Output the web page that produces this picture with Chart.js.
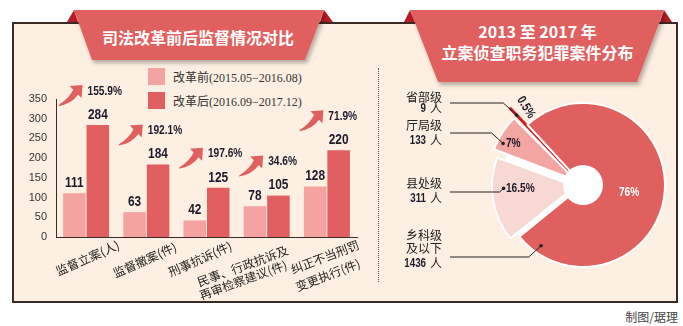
<!DOCTYPE html>
<html>
<head>
<meta charset="utf-8">
<script src="https://cdn.jsdelivr.net/npm/chart.js@4.4.1/dist/chart.umd.min.js"></script>
<style>
body { margin: 0; width: 683px; height: 326px; background: #fff; position: relative; overflow: hidden; font-family: "Noto Sans CJK SC", sans-serif; }
#panel { position: absolute; left: 12px; top: 22px; width: 666px; height: 281px; box-sizing: border-box; background: #fdf0e2; border: 2px solid #3b2a26; }
#sep { position: absolute; left: 378px; top: 68px; height: 214px; border-left: 1px dotted #555; }
#deco { position: absolute; left: 0; top: 0; }
.title { position: absolute; color: #fff; font-weight: bold; font-size: 16px; text-align: center; white-space: nowrap; line-height: 21px; }
.legend { position: absolute; left: 148px; font-size: 12px; color: #333; white-space: nowrap; }
.legend i { position: absolute; left: 0; top: 0; width: 17px; height: 17px; }
.legend span { position: absolute; left: 25px; top: 0; line-height: 17px; }
.legend b { font-weight: normal; font-family: "Liberation Serif", serif; }
#barWrap { position: absolute; left: 14px; top: 62px; width: 362px; height: 240px; }
#pieWrap { position: absolute; left: 380px; top: 62px; width: 296px; height: 240px; }
#credit { position: absolute; right: 5px; top: 308px; font-size: 12px; color: #444; }
</style>
</head>
<body>
<div id="panel"></div>
<div id="sep"></div>
<svg id="deco" width="683" height="326">
  <defs>
    <filter id="sh" x="-10%" y="-20%" width="125%" height="170%">
      <feDropShadow dx="2" dy="3" stdDeviation="2" flood-color="#000" flood-opacity="0.3"/>
    </filter>
  </defs>
  <polygon points="67,22 74,10 78,22" fill="#b51d22"/>
  <polygon points="320,22 324,10 333,22" fill="#b51d22"/>
  <polygon points="74,10 324,10 305,60 92,60" fill="#e0605f" filter="url(#sh)"/>
  <polygon points="404,22 410,10 415,22" fill="#b51d22"/>
  <polygon points="660,22 664,10 672,22" fill="#b51d22"/>
  <polygon points="410,10 664,10 637,82 438,82" fill="#e0605f" filter="url(#sh)"/>
</svg>
<div class="title" style="left:92px; width:212px; top:27px;">司法改革前后监督情况对比</div>
<div class="title" style="left:438px; width:199px; top:21px;">2013 至 2017 年<br>立案侦查职务犯罪案件分布</div>

<div class="legend" style="top:68px;"><i style="background:#f4a3a0"></i><span>改革前<b>(2015.05−2016.08)</b></span></div>
<div class="legend" style="top:92px;"><i style="background:#e15f60"></i><span>改革后<b>(2016.09−2017.12)</b></span></div>

<div id="barWrap"><canvas id="barChart" width="362" height="240"></canvas></div>
<div id="pieWrap"><canvas id="pieChart" width="296" height="240"></canvas></div>
<div id="credit">制图/琚理</div>

<script>
// bar chart data
const categories = ['监督立案(人)', '监督撤案(件)', '刑事抗诉(件)', ['民事、行政抗诉及', '再审检察建议(件)'], ['纠正不当刑罚', '变更执行(件)']];
const beforeValues = [111, 63, 42, 78, 128];
const afterValues = [284, 184, 125, 105, 220];
const growthLabels = ['155.9%', '192.1%', '197.6%', '34.6%', '71.9%'];
const yMax = 350;
const yStep = 50;

// pie chart data (clockwise from the lower-left edge)
const levelNames = [['县处级'], ['厅局级'], ['省部级'], ['乡科级', '及以下']];
const levelCounts = [311, 133, 9, 1436];
const levelShares = ['16.5%', '7%', '0.5%', '76%'];

const numberFont = '"Liberation Sans", Arial, sans-serif';
const darkText = '#1d1b2a';

// condensed bold numbers, like the newspaper font
function drawNumber(ctx, text, x, y, align, baseline, size, color, squeeze) {
    ctx.save();
    ctx.translate(x, y);
    ctx.scale(squeeze || 0.82, 1);
    ctx.font = 'bold ' + size + 'px ' + numberFont;
    ctx.textAlign = align;
    ctx.textBaseline = baseline;
    ctx.fillStyle = color;
    ctx.fillText(text, 0, 0);
    ctx.restore();
}

function drawArrow(ctx, x, y) {
    ctx.save();
    ctx.fillStyle = '#e0605f';
    // curved body, thin at the tail
    ctx.beginPath();
    ctx.moveTo(x - 24, y + 20);
    ctx.quadraticCurveTo(x - 13, y + 13, x - 9, y + 4);
    ctx.lineTo(x - 4, y + 9);
    ctx.quadraticCurveTo(x - 11, y + 19, x - 24, y + 21);
    ctx.closePath();
    ctx.fill();
    // head
    ctx.beginPath();
    ctx.moveTo(x, y);
    ctx.lineTo(x - 13, y + 1);
    ctx.lineTo(x - 1, y + 13);
    ctx.closePath();
    ctx.fill();
    ctx.restore();
}

// tilted category names: [dx from tick, dy below axis, angle] per line
const xLabelSpots = [
    [[1.5, 21, 24]],
    [[-1.5, 23, 24]],
    [[-6.5, 22, 24]],
    [[-24, 29, 20], [-23.5, 43, 20]],
    [[-2, 20, 21], [1, 38, 21]]
];

const barAnnotations = {
    id: 'barAnnotations',
    afterDatasetsDraw(chart) {
        const ctx = chart.ctx;
        [0, 1].forEach(ds => {
            chart.getDatasetMeta(ds).data.forEach((bar, i) => {
                drawNumber(ctx, String(chart.data.datasets[ds].data[i]), bar.x, bar.y - 3, 'center', 'bottom', 14, darkText, 0.85);
            });
        });
        chart.getDatasetMeta(1).data.forEach((bar, i) => {
            const tipX = bar.x - bar.width / 2 - 4;
            const tipY = bar.y - 40;
            drawArrow(ctx, tipX, tipY);
            drawNumber(ctx, growthLabels[i], tipX + 5, tipY + 6, 'left', 'middle', 13, darkText, 0.78);
        });

        const xScale = chart.scales.x;
        const axisY = chart.chartArea.bottom;
        ctx.save();
        ctx.fillStyle = '#222';
        ctx.font = '12px "Noto Sans CJK SC"';
        ctx.textAlign = 'center';
        ctx.textBaseline = 'middle';
        categories.forEach((cat, i) => {
            const lines = Array.isArray(cat) ? cat : [cat];
            const tickX = xScale.getPixelForValue(i);
            lines.forEach((line, k) => {
                const spot = xLabelSpots[i][k];
                ctx.save();
                ctx.translate(tickX + spot[0], axisY + spot[1]);
                ctx.rotate(-spot[2] * Math.PI / 180);
                ctx.fillText(line, 0, 0);
                ctx.restore();
            });
        });
        ctx.restore();
    }
};

new Chart(document.getElementById('barChart'), {
    type: 'bar',
    data: {
        labels: categories,
        datasets: [
            { label: '改革前', data: beforeValues, backgroundColor: '#f4a3a0' },
            { label: '改革后', data: afterValues, backgroundColor: '#e15f60' }
        ]
    },
    options: {
        responsive: false,
        animation: false,
        categoryPercentage: 0.78,
        barPercentage: 0.96,
        layout: { padding: { top: 37, right: 19, left: 0, bottom: 0 } },
        plugins: { legend: { display: false }, tooltip: { enabled: false } },
        scales: {
            x: {
                grid: { display: false, drawTicks: false },
                border: { color: '#3b2a26', width: 1 },
                ticks: { display: false },
                afterFit(scale) { scale.height = 65; }
            },
            y: {
                min: 0,
                max: yMax,
                grid: { display: false, drawTicks: false },
                border: { color: '#3b2a26', width: 1 },
                ticks: {
                    stepSize: yStep,
                    padding: 9,
                    color: '#333',
                    font: { family: numberFont, size: 11 }
                },
                afterFit(scale) { scale.width = 42; }
            }
        }
    },
    plugins: [barAnnotations]
});

// where a point sits on an (exploded) slice, same maths as Chart.js arc drawing
function slicePoint(arc, frac, rFrac) {
    const shift = (arc.options.offset || 0) / 4;
    const circ = arc.endAngle - arc.startAngle;
    const radius = arc.outerRadius + shift * (1 - Math.sin(Math.min(Math.PI, circ)));
    const mid = (arc.startAngle + arc.endAngle) / 2;
    const a = arc.startAngle + frac * circ;
    return {
        x: arc.x + shift * Math.cos(mid) + radius * rFrac * Math.cos(a),
        y: arc.y + shift * Math.sin(mid) + radius * rFrac * Math.sin(a)
    };
}

const pieDecor = {
    id: 'pieDecor',
    beforeDatasetsDraw(chart) {
        const arc = chart.getDatasetMeta(0).data[0];
        const ctx = chart.ctx;
        ctx.save();
        ctx.fillStyle = '#fff';
        ctx.beginPath();
        ctx.arc(arc.x, arc.y, arc.outerRadius, 0, Math.PI * 2);
        ctx.fill();
        ctx.restore();
    },
    afterDatasetsDraw(chart) {
        const ctx = chart.ctx;
        const arcs = chart.getDatasetMeta(0).data;
        const cx = arcs[0].x, cy = arcs[0].y;

        // hole in the middle
        ctx.save();
        ctx.fillStyle = '#fff';
        ctx.beginPath();
        ctx.arc(cx, cy, 20, 0, Math.PI * 2);
        ctx.fill();
        ctx.restore();

        // share labels inside the slices
        const shareSpots = [[0.62, 0.66], [0.41, 0.83], null, [0.52, 0.57]];
        arcs.forEach((arc, i) => {
            const spot = shareSpots[i];
            if (spot) {
                const p = slicePoint(arc, spot[0], spot[1]);
                drawNumber(ctx, levelShares[i], p.x, p.y, 'center', 'middle', 13, i === 3 ? '#fff' : darkText, 0.78);
            }
        });
        // the thin slice gets its label rotated beside it
        const thin = arcs[2];
        const mid = (thin.startAngle + thin.endAngle) / 2;
        const tip = slicePoint(thin, 0.5, 1);
        const lx = tip.x + 12 * Math.cos(mid + Math.PI / 2) - 10 * Math.cos(mid);
        const ly = tip.y + 12 * Math.sin(mid + Math.PI / 2) - 10 * Math.sin(mid);
        ctx.save();
        ctx.translate(lx, ly);
        ctx.rotate(mid - Math.PI + 0.2);
        drawNumber(ctx, levelShares[2], 0, 0, 'center', 'middle', 13, darkText, 0.78);
        ctx.restore();

        // names on the left with leader lines
        const textRight = cx - 141;
        const lineStart = cx - 133;
        const nameY = [[-2], [-60], [-88], [50, 63]];
        const countY = [13, -45, -77, 78];
        const lineY = [7, -52, -82, 72];
        const dotSpots = [[0.63, 0.86], [0.26, 0.93], [0.5, 0.9], [0.94, 0.9]];
        ctx.save();
        ctx.fillStyle = '#222';
        ctx.strokeStyle = '#222';
        ctx.lineWidth = 1;
        arcs.forEach((arc, i) => {
            ctx.font = '12px "Noto Sans CJK SC"';
            ctx.textAlign = 'right';
            ctx.textBaseline = 'middle';
            levelNames[i].forEach((name, k) => {
                ctx.fillText(name, textRight, cy + nameY[i][k]);
            });
            ctx.fillText('人', textRight, cy + countY[i]);
            drawNumber(ctx, String(levelCounts[i]), textRight - 16, cy + countY[i], 'right', 'middle', 13, darkText, 0.75);

            const dot = slicePoint(arc, dotSpots[i][0], dotSpots[i][1]);
            const ly = cy + lineY[i];
            const kneeX = dot.x - Math.abs(ly - dot.y) * 1.1;
            ctx.beginPath();
            ctx.moveTo(lineStart, ly);
            ctx.lineTo(kneeX, ly);
            ctx.lineTo(dot.x, dot.y);
            ctx.stroke();
            ctx.beginPath();
            ctx.arc(dot.x, dot.y, 1.8, 0, Math.PI * 2);
            ctx.fill();
        });
        ctx.restore();
    }
};

new Chart(document.getElementById('pieChart'), {
    type: 'pie',
    data: {
        labels: levelNames.map(n => n.join('')),
        datasets: [{
            data: levelCounts,
            rotation: 231,
            radius: 82,
            backgroundColor: ['#f7d8d3', '#f2a5a1', '#cf1f28', '#e0605f'],
            borderColor: ['#fff', '#fff', '#cf1f28', '#fff'],
            borderWidth: [2, 2, 3, 2],
            offset: [32, 36, 48, 0],
            hoverOffset: 0
        }]
    },
    options: {
        responsive: false,
        animation: false,
        radius: 82,
        // pie centre at page x 583, y 185
        layout: { padding: { left: 119, right: 9, top: 6, bottom: 0 } },
        plugins: { legend: { display: false }, tooltip: { enabled: false } }
    },
    plugins: [pieDecor]
});
</script>
</body>
</html>
